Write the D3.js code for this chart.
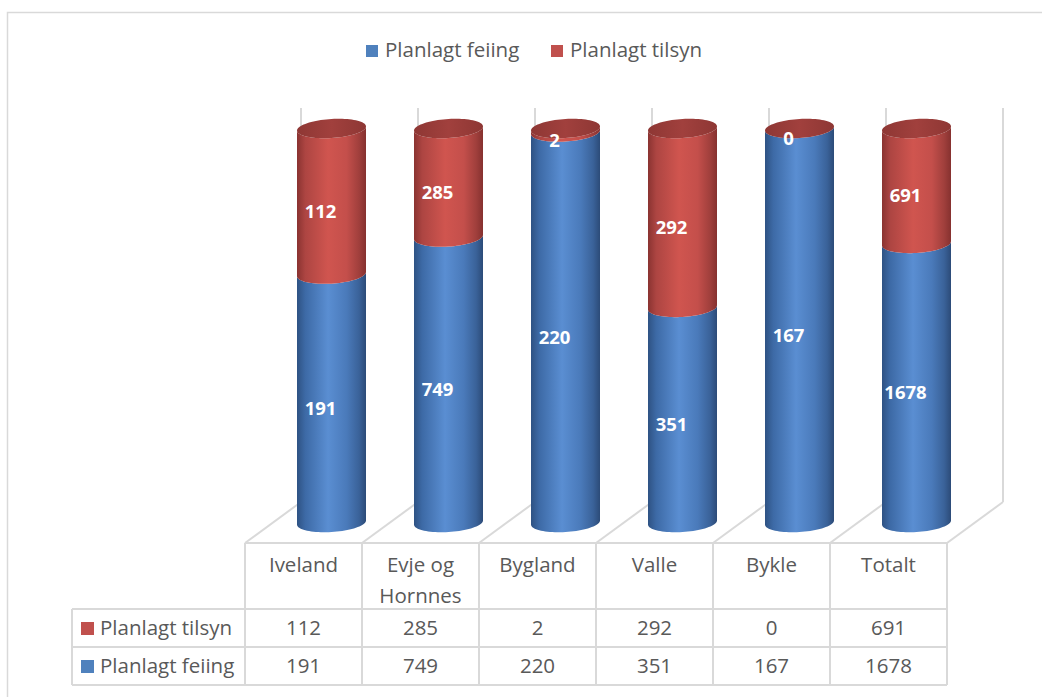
<!DOCTYPE html>
<html>
<head>
<meta charset="utf-8">
<script src="https://cdn.jsdelivr.net/npm/d3@7"></script>
<style>
  html, body { margin: 0; padding: 0; background: #fff; }
  svg { display: block; }
</style>
</head>
<body>
<svg id="chart" width="1042" height="697"></svg>
<script>
// ---------------- DATA ----------------
const categories = ["Iveland", "Evje og Hornnes", "Bygland", "Valle", "Bykle", "Totalt"];
const seriesNames = ["Planlagt feiing", "Planlagt tilsyn"];
const feiing = [191, 749, 220, 351, 167, 1678];
const tilsyn = [112, 285, 2, 292, 0, 691];
const seriesColors = ["#4f81bd", "#c0504d"];

// ---------------- SETUP ----------------
const svg = d3.select("#chart");
const font = "'Open Sans', 'Liberation Sans', sans-serif";
const textColor = "#595959";
const gridColor = "#d9d9d9";
const fs = 20.5;

// outer chart border (extends beyond window on right/bottom)
svg.append("rect").attr("x", 7.5).attr("y", 12.5).attr("width", 1060).attr("height", 720)
  .attr("fill", "#fff").attr("stroke", gridColor).attr("stroke-width", 1.5);

// scales
const x = d3.scaleBand().domain(categories).range([245, 947]).padding(0);
const depth = { dx: 56, dy: -41 };
const yBack = d3.scaleLinear().domain([0, 1]).range([502, 108]);
const yMid = d3.scaleLinear().domain([0, 1]).range([502 - depth.dy / 2, 108 - depth.dy / 2]);

const bounds = x.domain().map(c => x(c)).concat([x.range()[1]]);

// ---------------- FLOOR / WALL GRID ----------------
const grid = svg.append("g").attr("stroke", gridColor).attr("stroke-width", 2).attr("fill", "none");
bounds.forEach(b => {
  grid.append("line").attr("x1", b).attr("y1", yBack(0) - depth.dy).attr("x2", b + depth.dx).attr("y2", yBack(0));
  grid.append("line").attr("x1", b + depth.dx).attr("y1", yBack(0)).attr("x2", b + depth.dx).attr("y2", yBack(1));
});

// ---------------- CYLINDERS ----------------
const defs = svg.append("defs");
function makeGrad(id, stops) {
  const g = defs.append("linearGradient").attr("id", id).attr("x1", "0%").attr("x2", "100%").attr("y1", "0%").attr("y2", "0%");
  stops.forEach(s => g.append("stop").attr("offset", s[0]).attr("stop-color", s[1]));
}
makeGrad("gBlue", [["0%", "#2e5283"], ["12%", "#3d6aa6"], ["45%", "#5a8ed2"], ["72%", "#4a7aba"], ["90%", "#3a6299"], ["100%", "#2c4b78"]]);
makeGrad("gRed", [["0%", "#8a3331"], ["12%", "#ad4542"], ["45%", "#d0554f"], ["72%", "#c44f4b"], ["90%", "#a03f3c"], ["100%", "#86312f"]]);
makeGrad("gTop", [["0%", "#8e3734"], ["50%", "#a1403d"], ["100%", "#8e3734"]]);

const rx = 34.5, ry = 9.5, shear = 0.06;
function ellPt(cx, cy, t) {
  return [cx + rx * Math.cos(t), cy + ry * Math.sin(t) - shear * rx * Math.cos(t)];
}
function sidePath(cx, yTop, yBot) {
  const pts = [];
  const N = 40;
  for (let i = 0; i <= N; i++) { const t = Math.PI - Math.PI * i / N; pts.push(ellPt(cx, yBot, t)); }
  for (let i = 0; i <= N; i++) { const t = Math.PI * i / N; pts.push(ellPt(cx, yTop, t)); }
  return d3.line()(pts) + "Z";
}
function topPath(cx, cy) {
  const pts = [];
  const N = 80;
  for (let i = 0; i <= N; i++) pts.push(ellPt(cx, cy, 2 * Math.PI * i / N));
  return d3.line()(pts) + "Z";
}

const rows = categories.map((c, i) => {
  const tot = feiing[i] + tilsyn[i];
  return { c, f: feiing[i], t: tilsyn[i], pf: feiing[i] / tot };
});

const cyl = svg.append("g");
rows.forEach(r => {
  const cx = x(r.c) + x.bandwidth() / 2 + depth.dx / 2;
  const y0 = yMid(0), y1 = yMid(r.pf), y2 = yMid(1);
  cyl.append("path").attr("d", sidePath(cx, y1, y0)).attr("fill", "url(#gBlue)");
  cyl.append("path").attr("d", sidePath(cx, y2, y1)).attr("fill", "url(#gRed)");
  cyl.append("path").attr("d", topPath(cx, y2)).attr("fill", "url(#gTop)");
  r.cx = cx; r.yF = (y0 + y1) / 2; r.yT = (y1 + y2) / 2;
});

// data labels
const lbl = svg.append("g").attr("font-family", font).attr("font-weight", 700).attr("font-size", 18.5)
  .attr("fill", "#fff").attr("text-anchor", "middle").attr("dominant-baseline", "central");
rows.forEach(r => {
  lbl.append("text").attr("x", r.cx - 11).attr("y", r.yF + 9).text(r.f);
  lbl.append("text").attr("x", r.cx - 11).attr("y", r.yT + 9).text(r.t);
});

// ---------------- DATA TABLE ----------------
const tTop = 543, tHead = 609, tRow1 = 647, tBot = 685, tLeft = 72;
const tg = svg.append("g").attr("stroke", gridColor).attr("stroke-width", 2);
[[x.range()[0], tTop], [tLeft, tHead], [tLeft, tRow1], [tLeft, tBot]].forEach(([xa, yy]) => {
  tg.append("line").attr("x1", xa).attr("x2", x.range()[1]).attr("y1", yy).attr("y2", yy);
});
tg.append("line").attr("x1", tLeft).attr("x2", tLeft).attr("y1", tHead).attr("y2", tBot);
bounds.forEach(b => tg.append("line").attr("x1", b).attr("x2", b).attr("y1", tTop).attr("y2", tBot));

const tt = svg.append("g").attr("font-family", font).attr("font-size", fs).attr("fill", textColor);
categories.forEach(c => {
  const cx = x(c) + x.bandwidth() / 2;
  const t = tt.append("text").attr("x", cx).attr("y", 572).attr("text-anchor", "middle");
  const words = c.split(" ");
  let line = [];
  let tspan = t.append("tspan").attr("x", cx).attr("dy", 0);
  words.forEach(w => {
    line.push(w);
    tspan.text(line.join(" "));
    if (tspan.node().getComputedTextLength() > x.bandwidth() - 12 && line.length > 1) {
      line.pop();
      tspan.text(line.join(" "));
      line = [w];
      tspan = t.append("tspan").attr("x", cx).attr("dy", 31).text(w);
    }
  });
});
const tableRows = [
  { name: seriesNames[1], vals: tilsyn, color: seriesColors[1], base: 635 },
  { name: seriesNames[0], vals: feiing, color: seriesColors[0], base: 673 }
];
tableRows.forEach(row => {
  svg.append("rect").attr("x", 81).attr("y", row.base - 13).attr("width", 13).attr("height", 13).attr("fill", row.color);
  tt.append("text").attr("x", 100).attr("y", row.base).text(row.name);
  row.vals.forEach((v, i) => {
    tt.append("text").attr("x", x(categories[i]) + x.bandwidth() / 2).attr("y", row.base)
      .attr("text-anchor", "middle").text(v);
  });
});

// ---------------- LEGEND ----------------
const lg = svg.append("g").attr("font-family", font).attr("font-size", fs).attr("fill", textColor);
const legendItems = [{ name: seriesNames[0], color: seriesColors[0], x: 366 }, { name: seriesNames[1], color: seriesColors[1], x: 551 }];
legendItems.forEach(it => {
  lg.append("rect").attr("x", it.x).attr("y", 45).attr("width", 12).attr("height", 12).attr("fill", it.color);
  lg.append("text").attr("x", it.x + 19).attr("y", 57).text(it.name);
});
</script>
</body>
</html>
